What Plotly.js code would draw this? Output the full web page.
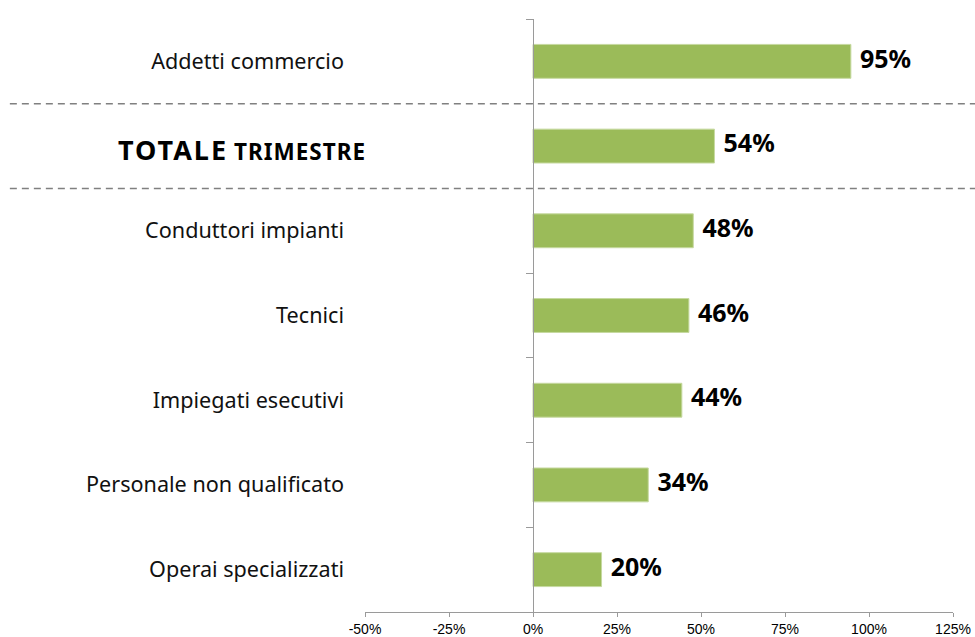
<!DOCTYPE html>
<html>
<head>
<meta charset="utf-8">
<script src="https://cdn.plot.ly/plotly-3.0.1.min.js"></script>
<style>html,body{margin:0;padding:0;background:#fff;}#chart{width:975px;height:637px;}</style>
</head>
<body>
<div id="chart"></div>
<script>
// Data
const categories = [
  'Addetti commercio',
  'TOTALE TRIMESTRE',
  'Conduttori impianti',
  'Tecnici',
  'Impiegati esecutivi',
  'Personale non qualificato',
  'Operai specializzati'
];
const values = [0.946, 0.54, 0.477, 0.464, 0.443, 0.343, 0.204];
const xTickVals = [-0.5, -0.25, 0, 0.25, 0.5, 0.75, 1, 1.25];
const xTickText = ['-50%', '-25%', '0%', '25%', '50%', '75%', '100%', '125%'];
const totalLabel = 'TOTALE TRIMESTRE';
const otherCats = categories.filter(c => c !== totalLabel);

const font = '"Noto Sans", Lato, sans-serif';
const nCat = categories.length;
const yRange = [nCat - 0.5, -0.5];

const bars = {
  type: 'bar', orientation: 'h',
  y: categories, x: values,
  width: 0.4,
  marker: {color: '#9BBB59', line: {color: '#c6d9a0', width: 1}},
  hoverinfo: 'skip',
  xaxis: 'x', yaxis: 'y'
};
const labels = {
  type: 'scatter', mode: 'markers+text',
  y: categories, x: values,
  text: values.map(v => Math.round(v * 100) + '%'),
  textposition: 'middle right',
  textfont: {family: font, size: 25, color: '#000', weight: 'bold'},
  marker: {size: 13, opacity: 0},
  hoverinfo: 'skip', showlegend: false,
  xaxis: 'x', yaxis: 'y'
};
const ghost2 = {type: 'scatter', mode: 'markers', y: categories, x: values.map(() => 0),
  marker: {opacity: 0}, hoverinfo: 'skip', showlegend: false, xaxis: 'x', yaxis: 'y2'};
const ghost3 = {type: 'scatter', mode: 'markers', y: categories, x: values.map(() => 0),
  marker: {opacity: 0}, hoverinfo: 'skip', showlegend: false, xaxis: 'x', yaxis: 'y3'};

const xMin = xTickVals[0], xMax = xTickVals[xTickVals.length - 1];
const zeroPos = (0 - xMin) / (xMax - xMin);
const totalWords = totalLabel.split(' ');

const layout = {
  width: 975, height: 637,
  margin: {l: 365, r: 22, t: 19, b: 25},
  paper_bgcolor: '#fff', plot_bgcolor: '#fff',
  showlegend: false,
  xaxis: {
    range: [xMin, xMax], tickmode: 'array', tickvals: xTickVals, ticktext: xTickText,
    showgrid: false, zeroline: false,
    showline: true, linecolor: '#9a9a9a', linewidth: 1,
    ticks: 'outside', ticklen: 4, tickcolor: '#9a9a9a',
    tickfont: {family: 'Liberation Sans, Arial, sans-serif', size: 14, color: '#000'},
    fixedrange: true
  },
  yaxis: {
    type: 'category', categoryorder: 'array', categoryarray: categories,
    range: yRange, tickmode: 'array', tickvals: otherCats, ticktext: otherCats,
    showgrid: false, zeroline: false, showline: false, ticks: '',
    ticklabelstandoff: 20,
    tickfont: {family: font, size: 21.6, color: '#111'},
    fixedrange: true
  },
  yaxis2: {
    type: 'category', categoryorder: 'array', categoryarray: categories,
    range: yRange, overlaying: 'y', anchor: 'free', position: zeroPos, side: 'left',
    showgrid: false, zeroline: false, showline: true, linecolor: '#9a9a9a', linewidth: 1,
    ticks: 'outside', tickson: 'boundaries', ticklen: 7, tickcolor: '#9a9a9a',
    showticklabels: false, fixedrange: true
  },
  yaxis3: {
    type: 'category', categoryorder: 'array', categoryarray: categories,
    range: yRange, overlaying: 'y', anchor: 'free', position: 0, side: 'left',
    showgrid: false, zeroline: false, showline: false, ticks: '',
    tickmode: 'array', tickvals: [totalLabel],
    ticktext: ['<b><span style="font-size:27px;letter-spacing:2px">' + totalWords[0] +
      '</span> <span style="letter-spacing:1px">' + totalWords[1] + '</span></b>'],
    ticklabelstandoff: -1,
    ticklabelshift: -6,
    tickfont: {family: font, size: 22.5, color: '#000'},
    fixedrange: true
  },
  shapes: [0.5, 1.5].map(yv => ({
    type: 'line', xref: 'paper', yref: 'y', x0: -0.604, x1: 1.04, y0: yv, y1: yv,
    line: {color: '#808080', width: 1.6, dash: '7px,5px'}
  }))
};

Plotly.newPlot('chart', [bars, labels, ghost2, ghost3], layout, {displayModeBar: false, staticPlot: true});
</script>
</body>
</html>
